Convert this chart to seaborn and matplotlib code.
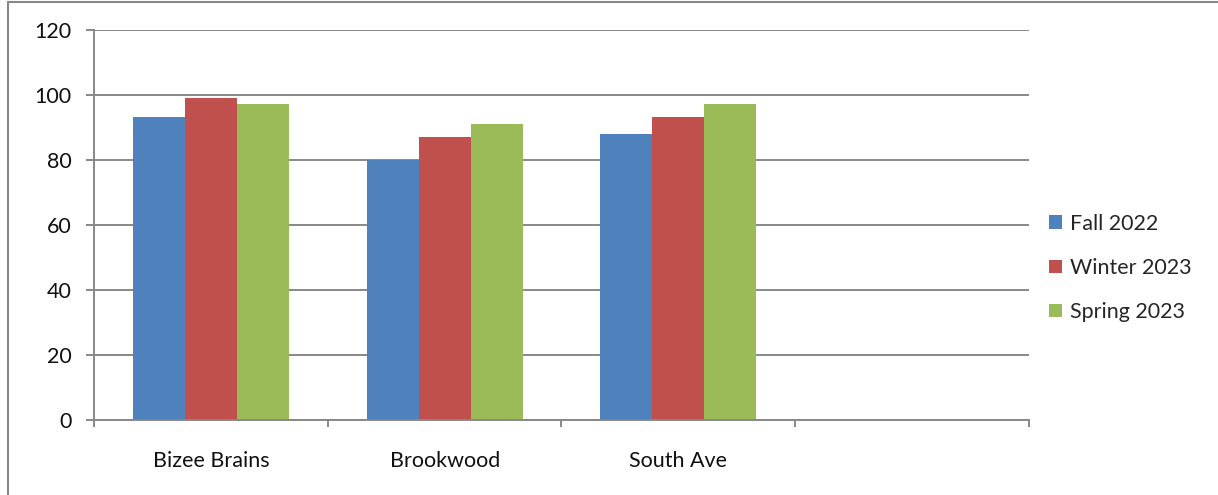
import matplotlib
matplotlib.use("Agg")
import matplotlib.pyplot as plt
from matplotlib.lines import Line2D
from matplotlib.ticker import FixedLocator
import pandas as pd
import seaborn as sns

schools = ["Bizee Brains", "Brookwood", "South Ave"]
terms = ["Fall 2022", "Winter 2023", "Spring 2023"]
fall_2022 = [93, 80, 88]
winter_2023 = [99, 87, 93]
spring_2023 = [97, 91, 97]
y_ticks = [0, 20, 40, 60, 80, 100, 120]
colors = ["#4F81BD", "#C0504D", "#9BBB59"]

df = pd.DataFrame({
    "School": schools * 3,
    "Term": [t for t in terms for _ in schools],
    "Score": fall_2022 + winter_2023 + spring_2023,
})

sns.set_style("white")
plt.rcParams["font.family"] = ["Lato", "DejaVu Sans"]

fig = plt.figure(figsize=(12.18, 4.95), dpi=100)
ax = fig.add_axes([0.0772, 0.1515, 0.7676, 0.7889])

sns.barplot(data=df, x="School", y="Score", hue="Term", order=schools,
            hue_order=terms, palette=colors, width=0.667, gap=0,
            saturation=1, ax=ax, linewidth=0, errorbar=None)

grid_c = "#888888"
ax.set_xlim(-0.5, 3.5)
ax.set_ylim(0, 120)
ax.set_yticks(y_ticks)
ax.yaxis.grid(True, color=grid_c, linewidth=1.4)
ax.set_axisbelow(True)
ax.set_xlabel("")
ax.set_ylabel("")

for side in ["top", "right"]:
    ax.spines[side].set_visible(False)
for side in ["left", "bottom"]:
    ax.spines[side].set_color(grid_c)
    ax.spines[side].set_linewidth(1.4)

fs = 15.5
ax.tick_params(axis="y", length=6, width=1.4, color=grid_c, pad=10,
               labelsize=fs, labelcolor="#111111", left=True)
ax.tick_params(axis="x", which="major", length=0, pad=22, labelsize=fs,
               labelcolor="#111111")
ax.xaxis.set_minor_locator(FixedLocator([-0.5, 0.5, 1.5, 2.5, 3.5]))
ax.tick_params(axis="x", which="minor", length=5, width=1.4, color=grid_c,
               bottom=True, direction="out")

ax.legend(loc="center left", bbox_to_anchor=(0.8543, 0.4586),
          bbox_transform=fig.transFigure, frameon=False, fontsize=fs,
          handlelength=0.6, handleheight=0.6, handletextpad=0.35,
          labelspacing=1.12, borderaxespad=0)

# outer frame of the chart area
fig.add_artist(Line2D([0.0066, 0.0066], [0.0, 0.996], transform=fig.transFigure,
                      color="#888888", linewidth=1.5))
fig.add_artist(Line2D([0.0066, 1.0], [0.996, 0.996], transform=fig.transFigure,
                      color="#888888", linewidth=1.5))

fig.savefig("out.png", dpi=100, facecolor="white")
